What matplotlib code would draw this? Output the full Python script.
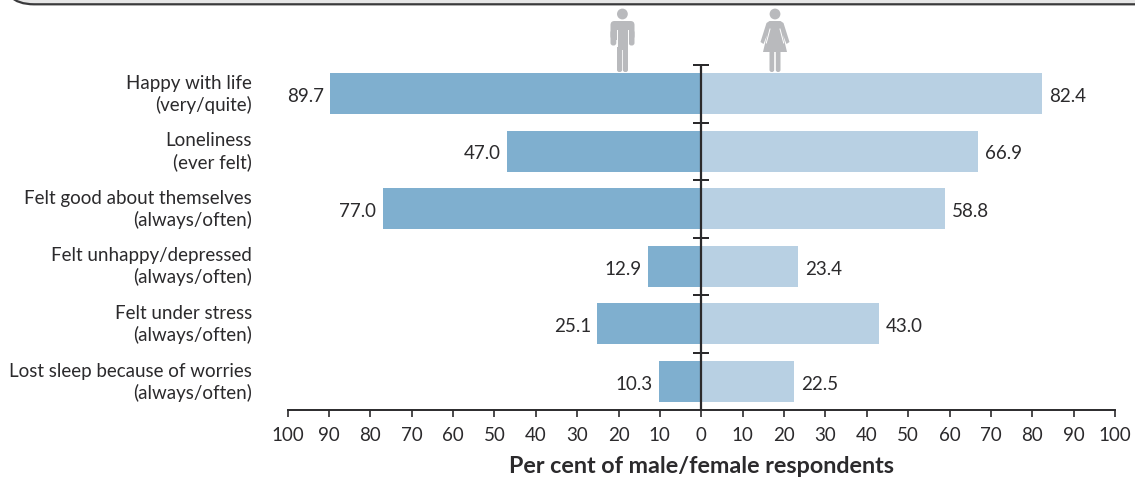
import matplotlib.pyplot as plt
from matplotlib.patches import Circle, FancyBboxPatch, Polygon
from matplotlib.transforms import ScaledTranslation

plt.rcParams['font.family'] = ['Lato', 'DejaVu Sans']

W, H = 1135, 478

labels = ['Happy with life\n(very/quite)',
          'Loneliness\n(ever felt)',
          'Felt good about themselves\n(always/often)',
          'Felt unhappy/depressed\n(always/often)',
          'Felt under stress\n(always/often)',
          'Lost sleep because of worries\n(always/often)']
male = [89.7, 47.0, 77.0, 12.9, 25.1, 10.3]
female = [82.4, 66.9, 58.8, 23.4, 43.0, 22.5]
ticks = [-100, -90, -80, -70, -60, -50, -40, -30, -20, -10, 0,
         10, 20, 30, 40, 50, 60, 70, 80, 90, 100]

MALE_COLOR = '#7fafcf'
FEMALE_COLOR = '#b8d0e3'
INK = '#2b2a2c'
ICON = '#b9babd'
TEXT_SIZE = 13.5

fig = plt.figure(figsize=(W / 100, H / 100), dpi=100)

# overlay in pixel coordinates for the header panel and the two icons
deco = fig.add_axes([0, 0, 1, 1])
deco.set_xlim(0, W)
deco.set_ylim(H, 0)
deco.axis('off')

deco.add_patch(FancyBboxPatch((2, -80), W + 80, 84.3, boxstyle='round,pad=0,rounding_size=32',
                              fc='#e6e6e6', ec='#3a3a3c', lw=1.6))


def limb(x0, y0, x1, y1, r=2.2):
    deco.add_patch(FancyBboxPatch((x0, y0), x1 - x0, y1 - y0,
                                  boxstyle=f'round,pad=0,rounding_size={r}', fc=ICON, ec='none'))


# man
deco.add_patch(Circle((622.4, 14), 5.4, fc=ICON, ec='none'))
limb(610.5, 21, 634.5, 40, r=4)
limb(610.5, 30, 616.3, 45.5, r=2.6)
limb(628.7, 30, 634.5, 45.5, r=2.6)
limb(617, 30, 628, 50, r=0.5)
limb(617, 44, 622.1, 72)
limb(622.9, 44, 628, 72)
deco.plot([616.6, 616.6], [30, 46], color='white', lw=0.7)
deco.plot([628.4, 628.4], [30, 46], color='white', lw=0.7)

# woman
deco.add_patch(Circle((775, 14), 5.4, fc=ICON, ec='none'))
deco.add_patch(Polygon([(769.5, 21), (780.5, 21), (783.5, 23), (789.5, 42), (786.5, 44), (783, 35),
                        (787, 52), (763, 52), (767, 35), (763.5, 44), (760.5, 42), (766.5, 23)],
                       fc=ICON, ec='none'))
deco.plot([770, 766.3], [29, 43], color='white', lw=0.7)
deco.plot([780, 783.7], [29, 43], color='white', lw=0.7)
limb(769.5, 48, 774.2, 72)
limb(775.8, 48, 780.5, 72)

# chart axes: pixel span is 287.5..1115 across, 65..410 down
ax = fig.add_axes([287.5 / W, 1 - 410 / H, (1115 - 287.5) / W, (410 - 65) / H])
ax.patch.set_alpha(0)
pos = list(range(len(labels)))
ax.barh(pos, [-v for v in male], height=0.71, color=MALE_COLOR)
ax.barh(pos, female, height=0.71, color=FEMALE_COLOR)
ax.set_xlim(-100, 100)
ax.set_ylim(5.495, -0.495)

for i, (m, f) in enumerate(zip(male, female)):
    ax.annotate(f'{m:.1f}', (-m, i), xytext=(-4.5, -2), textcoords='offset points', ha='right',
                va='center', fontsize=TEXT_SIZE, color=INK)
    ax.annotate(f'{f:.1f}', (f, i), xytext=(5, -2), textcoords='offset points', ha='left',
                va='center', fontsize=TEXT_SIZE, color=INK)
    # short cross ticks along the centre line
    ax.plot([0, 0], [i - 0.495, i - 0.495], marker='_', ms=12, mew=1.4, color=INK, clip_on=False)

ax.axvline(0, color=INK, lw=1.6, zorder=5)

for side in ['top', 'left', 'right']:
    ax.spines[side].set_visible(False)
ax.spines['bottom'].set_color(INK)
ax.spines['bottom'].set_linewidth(1.4)

ax.set_xticks(ticks)
ax.set_xticklabels([str(abs(t)) for t in ticks], fontsize=TEXT_SIZE, color=INK)
ax.tick_params(axis='x', length=5, width=1.2, color=INK, pad=7)
ax.set_yticks(pos)
ax.set_yticklabels(labels, fontsize=TEXT_SIZE, color=INK, ha='right', linespacing=1.25)
ax.tick_params(axis='y', length=0, pad=25.5)
lift = ScaledTranslation(0, 2 / 72, fig.dpi_scale_trans)
for lab in ax.get_yticklabels():
    lab.set_transform(lab.get_transform() + lift)
ax.set_xlabel('Per cent of male/female respondents', fontsize=16.8, fontweight='bold', color=INK,
              labelpad=9)

fig.savefig('out.png', dpi=100)
